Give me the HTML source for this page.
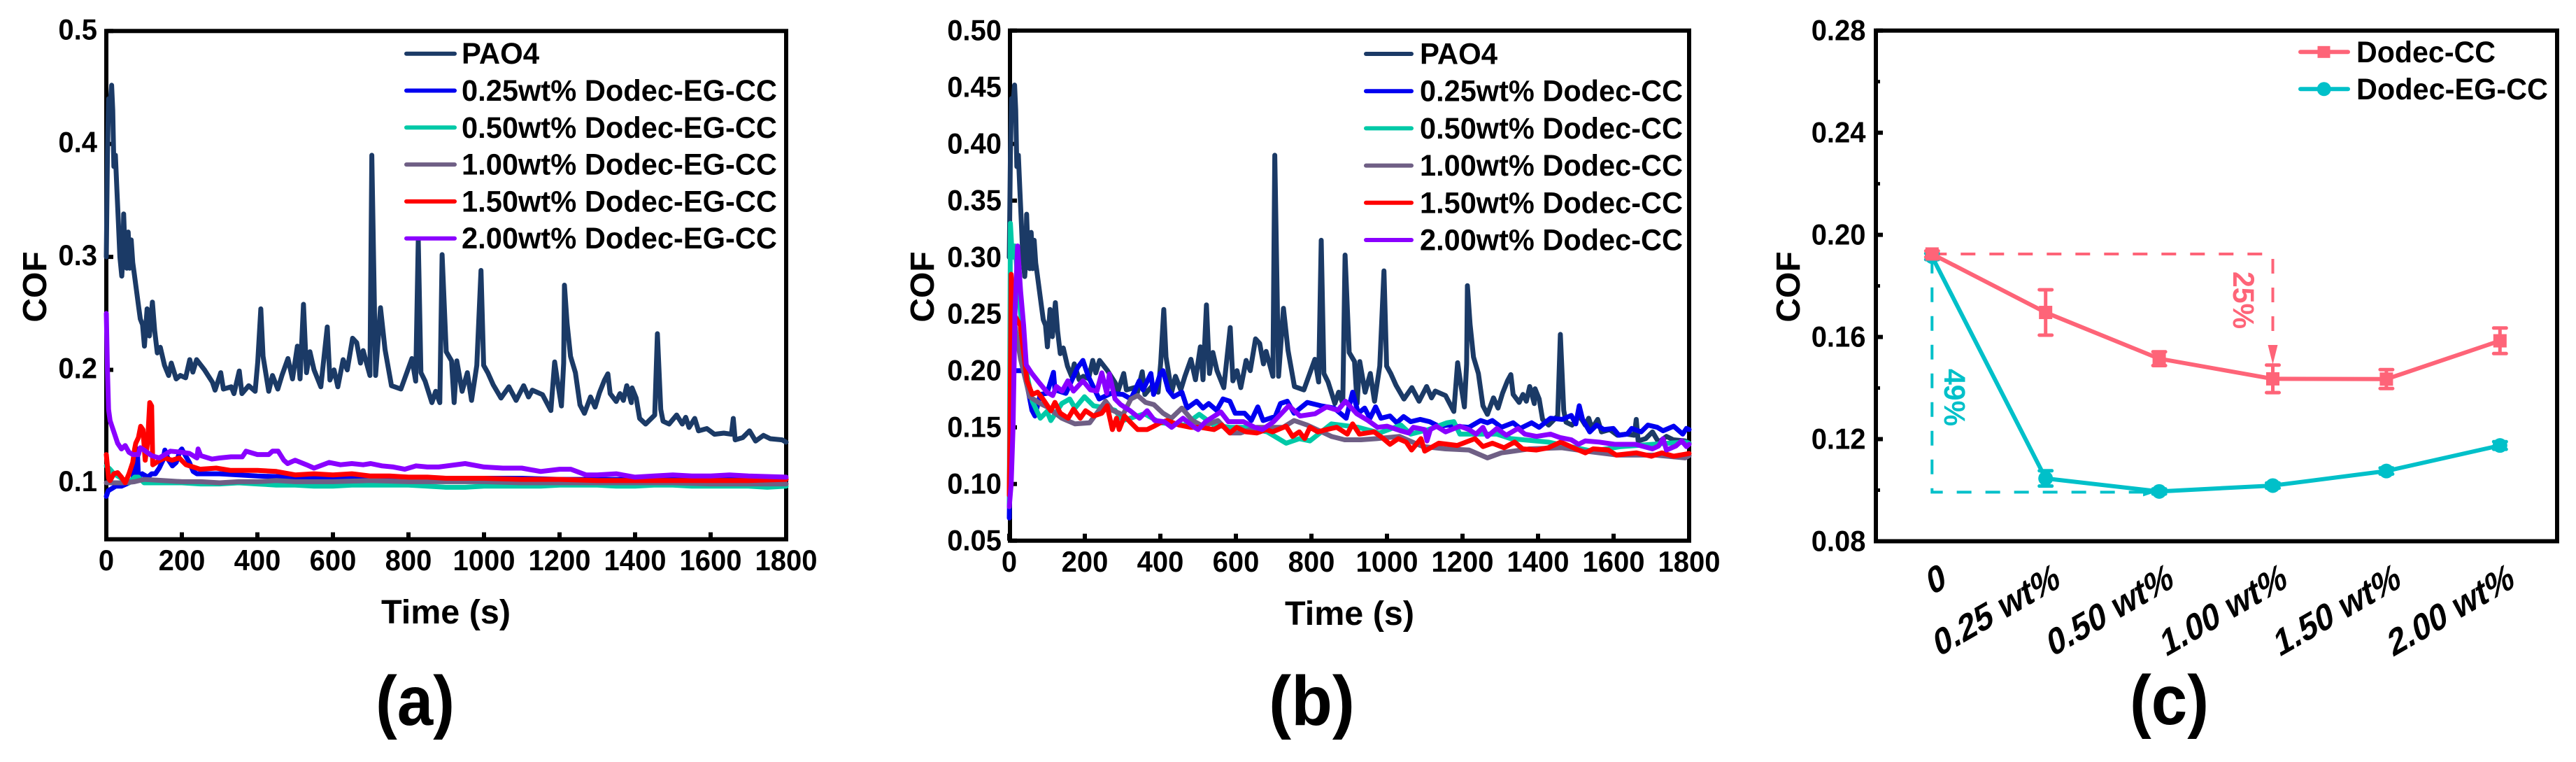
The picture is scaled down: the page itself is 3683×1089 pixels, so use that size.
<!DOCTYPE html>
<html lang="en">
<head>
<meta charset="utf-8">
<title>COF versus time and concentration</title>
<style>
html,body{margin:0;padding:0;background:#fff;}
svg{display:block;}
text{font-family:"Liberation Sans",Arial,sans-serif;font-weight:bold;fill:#000;}
</style>
</head>
<body>
<svg id="figure" xmlns="http://www.w3.org/2000/svg" width="3683" height="1089" viewBox="0 0 3683 1089">
  <rect x="0" y="0" width="3683" height="1089" fill="#fff"/>
  <g id="panel-a">
    <text transform="translate(66,410) rotate(-90)" text-anchor="middle" font-size="48">COF</text>
    <text x="545" y="891" font-size="48" textLength="185" lengthAdjust="spacingAndGlyphs">Time (s)</text>
    <text x="537" y="1036" font-size="100" textLength="113" lengthAdjust="spacingAndGlyphs">(a)</text>
  </g>
  <g id="panel-b">
    <text transform="translate(1335,410) rotate(-90)" text-anchor="middle" font-size="48">COF</text>
    <text x="1837" y="893" font-size="48" textLength="185" lengthAdjust="spacingAndGlyphs">Time (s)</text>
    <text x="1814" y="1036" font-size="100" textLength="123" lengthAdjust="spacingAndGlyphs">(b)</text>
  </g>
  <g id="panel-c">
    <text transform="translate(2573,410) rotate(-90)" text-anchor="middle" font-size="48">COF</text>
    <text x="3045" y="1035" font-size="100" textLength="113" lengthAdjust="spacingAndGlyphs">(c)</text>
    <text transform="translate(3193,388) rotate(90)" font-size="43" textLength="82" lengthAdjust="spacingAndGlyphs" style="fill:#fe6478">25%</text>
    <text transform="translate(2780,527) rotate(90)" font-size="43" textLength="82" lengthAdjust="spacingAndGlyphs" style="fill:#00c0c9">49%</text>
  </g>
</svg>
<script>
/* ---------- shared axis data ---------- */
const timeTicks = [0,200,400,600,800,1000,1200,1400,1600,1800];
const panelATicks = [0.1,0.2,0.3,0.4,0.5];
const panelBTicks = [0.05,0.10,0.15,0.20,0.25,0.30,0.35,0.40,0.45,0.50];
const panelCMajorTicks = [0.08,0.12,0.16,0.20,0.24,0.28];
const panelCMinorTicks = [0.10,0.14,0.18,0.22,0.26];
const concentrationLabels = ["0","0.25 wt%","0.50 wt%","1.00 wt%","1.50 wt%","2.00 wt%"];
const legendA = ["PAO4","0.25wt% Dodec-EG-CC","0.50wt% Dodec-EG-CC","1.00wt% Dodec-EG-CC","1.50wt% Dodec-EG-CC","2.00wt% Dodec-EG-CC"];
const legendB = ["PAO4","0.25wt% Dodec-CC","0.50wt% Dodec-CC","1.00wt% Dodec-CC","1.50wt% Dodec-CC","2.00wt% Dodec-CC"];
const legendC = ["Dodec-CC","Dodec-EG-CC"];

/* ---------- PAO4 (both panels) ---------- */
const pao4Time = [0,3,6,10,14,17,20,24,28,32,36,41,44,46,50,54,58,62,66,70,74,80,86,90,96,101,108,114,118,122,128,135,143,154,165,172,185,196,210,221,229,239,260,281,288,303,310,331,338,352,359,377,394,401,409,415,430,440,454,465,481,493,506,513,522,530,539,550,568,585,592,603,613,627,638,652,663,673,680,698,703,713,726,738,755,780,809,819,826,833,844,862,872,883,889,900,914,921,928,942,956,967,981,992,999,1010,1024,1045,1066,1085,1105,1118,1128,1155,1177,1187,1195,1205,1211,1213,1220,1229,1242,1254,1266,1282,1294,1306,1319,1328,1334,1350,1360,1369,1378,1390,1392,1403,1412,1428,1452,1459,1468,1474,1490,1510,1525,1534,1543,1558,1568,1590,1610,1635,1655,1660,1665,1685,1703,1719,1740,1758,1789,1800];
const pao4Cof = [.30,.39,.44,.435,.452,.43,.38,.39,.36,.33,.30,.283,.30,.338,.30,.29,.322,.29,.315,.295,.285,.27,.255,.245,.24,.221,.254,.23,.245,.26,.235,.215,.22,.204,.195,.206,.192,.195,.193,.209,.198,.209,.20,.189,.182,.1975,.183,.185,.179,.199,.179,.186,.181,.207,.254,.212,.181,.195,.183,.195,.21,.192,.221,.192,.258,.1975,.216,.20,.185,.238,.191,.20,.185,.209,.20,.228,.224,.206,.217,.195,.39,.195,.255,.218,.186,.183,.21,.19,.315,.1975,.19,.171,.181,.171,.302,.216,.208,.171,.208,.181,.1975,.173,.204,.288,.204,.1975,.187,.175,.185,.173,.186,.176,.182,.178,.164,.207,.189,.168,.206,.275,.241,.212,.1975,.169,.1615,.176,.167,.18,.191,.1965,.179,.172,.179,.173,.186,.171,.184,.175,.157,.152,.16,.232,.165,.1545,.152,.16,.152,.158,.149,.157,.146,.148,.143,.144,.143,.157,.138,.14,.146,.137,.142,.139,.138,.136];

/* ---------- panel (a) Dodec-EG-CC ---------- */
const egBlueTime = [0,5,15,25,40,60,70,78,82,85,95,110,120,130,140,150,155,165,175,185,195,200,208,220,230,240,300,400,500,600,700,800,900,1000,1100,1200,1300,1400,1500,1600,1700,1800];
const egBlueCof = [.088,.093,.095,.097,.097,.100,.103,.12,.13,.105,.108,.105,.108,.108,.113,.12,.129,.12,.115,.118,.128,.13,.125,.118,.11,.108,.108,.106,.105,.105,.104,.104,.104,.104,.104,.103,.103,.103,.103,.103,.103,.103];
const egTealTime = [0,10,20,40,60,75,85,100,150,200,250,300,350,400,450,500,550,600,650,700,750,800,850,900,950,1000,1050,1100,1150,1200,1250,1300,1350,1400,1450,1500,1550,1600,1650,1700,1750,1800];
const egTealCof = [.115,.112,.108,.104,.10,.105,.105,.10,.10,.10,.099,.099,.10,.099,.098,.098,.097,.097,.098,.098,.098,.098,.097,.096,.096,.097,.097,.097,.097,.098,.098,.098,.097,.097,.098,.098,.097,.097,.097,.097,.096,.097];
const egGrayTime = [0,50,75,100,150,200,250,300,350,400,450,500,550,600,700,800,900,1000,1100,1200,1300,1400,1500,1600,1700,1800];
const egGrayCof = [.10,.10,.101,.103,.102,.101,.101,.100,.101,.101,.102,.101,.101,.101,.102,.101,.101,.101,.10,.10,.10,.10,.10,.099,.099,.099];
const egRedTime = [0,6,10,20,30,40,50,60,70,75,78,85,91,97,103,109,115,120,123,137,155,174,193,211,230,248,291,328,400,450,500,550,600,650,700,750,800,850,900,1000,1100,1200,1300,1400,1500,1600,1700,1800];
const egRedCof = [.125,.104,.102,.108,.109,.105,.10,.108,.118,.13,.135,.14,.15,.147,.12,.135,.171,.168,.116,.119,.122,.12,.122,.116,.114,.112,.113,.111,.111,.11,.107,.108,.107,.108,.106,.106,.105,.105,.104,.104,.103,.103,.102,.102,.102,.102,.102,.103];
const egPurpleTime = [0,3,6,10,15,20,30,40,50,60,70,85,90,100,120,140,160,170,200,220,240,243,250,280,300,330,360,370,400,430,440,455,470,480,500,530,550,590,620,650,680,700,730,760,790,820,850,880,950,1000,1050,1100,1150,1200,1230,1270,1300,1350,1400,1450,1500,1550,1600,1650,1700,1800];
const egPurpleCof = [.25,.20,.165,.155,.15,.145,.135,.13,.133,.127,.125,.125,.131,.129,.124,.122,.126,.128,.127,.126,.122,.13,.124,.121,.122,.123,.123,.128,.125,.125,.128,.128,.12,.117,.12,.116,.113,.118,.116,.117,.116,.117,.115,.114,.112,.115,.114,.114,.117,.114,.113,.113,.110,.112,.112,.107,.107,.108,.105,.106,.107,.106,.106,.107,.106,.105];

/* ---------- panel (b) Dodec-CC ---------- */
const ccBlueTime = [0,5,20,40,60,68,82,100,117,121,150,181,195,209,238,270,301,322,344,354,375,382,400,407,421,435,457,471,496,513,528,549,566,584,598,623,641,658,672,704,718,736,754,789,825,860,892,909,924,941,955,970,984,1008,1026,1044,1063,1088,1113,1137,1162,1180,1217,1248,1266,1279,1303,1334,1353,1383,1403,1433,1464,1488,1500,1509,1518,1537,1555,1574,1599,1614,1636,1648,1673,1691,1716,1731,1759,1783,1793,1800];
const ccBlueCof = [.07,.2,.2,.2,.165,.16,.179,.18,.1985,.183,.18,.2027,.209,.195,.175,.18,.179,.175,.191,.183,.1975,.179,.1975,.2,.183,.177,.181,.167,.173,.167,.171,.165,.175,.173,.1625,.1625,.156,.168,.156,.1595,.171,.173,.1625,.172,.169,.167,.158,.181,.1625,.167,.158,.168,.158,.16,.154,.1595,.155,.157,.155,.151,.152,.151,.15,.156,.154,.156,.15,.154,.149,.154,.15,.158,.157,.1605,.153,.169,.157,.146,.152,.148,.149,.143,.144,.149,.146,.152,.15,.147,.151,.144,.149,.148];
const ccTealTime = [0,3,8,15,30,45,61,82,100,110,139,160,174,199,223,259,280,301,358,400,464,503,542,584,627,683,733,768,796,853,924,980,1037,1063,1110,1159,1177,1193,1291,1328,1427,1543,1620,1703,1789,1800];
const ccTealCof = [.08,.33,.30,.31,.25,.20,.173,.158,.164,.156,.171,.175,.167,.177,.169,.167,.165,.156,.162,.154,.152,.1615,.152,.15,.15,.146,.136,.14,.138,.153,.15,.145,.152,.144,.148,.154,.155,.144,.144,.14,.137,.129,.133,.135,.137,.136];
const ccGrayTime = [0,5,15,30,54,82,100,139,174,213,255,273,301,322,340,361,383,407,429,457,485,513,552,584,612,655,690,725,754,789,853,888,931,973,1033,1095,1155,1217,1266,1303,1377,1463,1525,1611,1710,1789,1800];
const ccGrayCof = [.09,.22,.24,.21,.177,.171,.168,.158,.153,.154,.173,.165,.161,.175,.178,.172,.17,.1625,.158,.167,.156,.151,.156,.145,.145,.15,.15,.15,.156,.152,.142,.139,.139,.14,.142,.133,.131,.13,.123,.1275,.131,.132,.129,.1255,.1255,.123,.125];
const ccRedTime = [0,2,5,12,29,47,61,75,89,110,121,135,156,170,188,202,223,245,259,273,284,291,305,322,340,365,383,400,418,450,480,506,542,563,584,602,627,655,680,697,733,750,768,782,796,817,840,867,895,909,927,966,987,1008,1030,1051,1065,1090,1100,1137,1186,1233,1254,1279,1310,1338,1359,1396,1427,1460,1500,1525,1546,1586,1607,1660,1700,1728,1759,1793,1800];
const ccRedCof = [.09,.15,.285,.25,.24,.191,.179,.181,.175,.1646,.172,.1625,.158,.166,.158,.1646,.16,.1625,.169,.148,.158,.148,.16,.154,.148,.148,.151,.154,.156,.152,.15,.15,.148,.152,.145,.15,.146,.145,.148,.146,.151,.142,.146,.14,.15,.146,.148,.15,.144,.153,.144,.146,.141,.135,.14,.137,.13,.14,.129,.136,.134,.14,.133,.136,.132,.137,.131,.13,.132,.137,.131,.1275,.131,.13,.1255,.1275,.1245,.1275,.1245,.1265,.127];
const ccPurpleTime = [0,5,10,15,22,30,38,45,60,80,100,115,125,140,155,170,195,215,232,245,258,265,280,295,320,345,365,385,410,430,460,490,500,520,560,580,620,650,670,700,740,770,810,840,870,890,920,950,975,1000,1036,1057,1070,1100,1106,1115,1131,1155,1193,1217,1236,1254,1266,1291,1316,1347,1365,1396,1433,1458,1488,1507,1525,1562,1603,1658,1703,1719,1731,1740,1765,1780,1793,1800];
const ccPurpleCof = [.08,.10,.15,.25,.31,.27,.24,.205,.1975,.189,.181,.178,.186,.182,.191,.182,.191,.183,.182,.198,.18,.197,.175,.17,.1646,.158,.1646,.156,.155,.15,.158,.15,.148,.155,.1636,.155,.155,.15,.148,.155,.169,.16,.162,.168,.165,.173,.162,.156,.15,.151,.147,.145,.15,.148,.138,.148,.151,.146,.151,.148,.144,.15,.142,.149,.143,.149,.144,.142,.144,.141,.139,.135,.138,.137,.135,.135,.131,.1335,.14,.13,.1335,.138,.133,.135];

/* ---------- panel (c) ---------- */
const dodecCcCof = [.1925,.1696,.1515,.1436,.1435,.1585];
const dodecCcErr = [.0012,.0089,.0027,.0054,.0037,.005];
const dodecEgCof = [.1915,.1046,.0995,.1018,.1075,.1175];
const dodecEgErr = [.0012,.003,.001,.001,.0012,.0015];

/* ---------- drawing helpers ---------- */
const NS = 'http://www.w3.org/2000/svg';
const NAVY = '#1b3a66', BLUE = '#0000f0', GREEN = '#00c9a7', SLATE = '#6f5f85', RED = '#ff0000', VIOLET = '#8a00ff';
const CORAL = '#fe6478', CYAN = '#00c0c9';
const TRACE_WIDTH = 7;

function make(parent, tag, attrs, text) {
  const el = document.createElementNS(NS, tag);
  for (const k in attrs) el.setAttribute(k, attrs[k]);
  if (text !== undefined) el.textContent = text;
  parent.appendChild(el);
  return el;
}
function linear(d0, d1, r0, r1) {
  return v => r0 + (v - d0) * (r1 - r0) / (d1 - d0);
}
/* tick text is drawn slightly taller than its advance width, as in the source figure */
function numberWidth(str) {
  let em = 0;
  for (const c of str) em += c === '.' ? 0.278 : 0.556;
  return (em * 40).toFixed(1);
}
function drawFrame(group, prefix, g) {
  const frame = make(group, 'rect', {x:g.left, y:g.top, width:g.right-g.left, height:g.bottom-g.top, fill:'none', stroke:'#000', 'stroke-width':6});
  
  
}
function drawYTicks(group, prefix, g, sy, ticks, digits, dy, labelX) {
  ticks.forEach(v => {
    const t = make(group, 'line', {x1:g.left, x2:g.left+10, y1:sy(v), y2:sy(v), stroke:'#000', 'stroke-width':6});
    
    
    const s = v.toFixed(digits);
    const l = make(group, 'text', {x:labelX, y:sy(v)+dy, 'text-anchor':'end', 'font-size':42, textLength:numberWidth(s), lengthAdjust:'spacingAndGlyphs'}, s);
    
    
  });
}
function drawXTicks(group, prefix, g, sx, baseline) {
  timeTicks.forEach(v => {
    const t = make(group, 'line', {x1:sx(v), x2:sx(v), y1:g.bottom, y2:g.bottom-10, stroke:'#000', 'stroke-width':6});
    
    
    const s = String(v);
    const l = make(group, 'text', {x:sx(v), y:baseline, 'text-anchor':'middle', 'font-size':42, textLength:numberWidth(s), lengthAdjust:'spacingAndGlyphs'}, s);
    
    
  });
}
function drawTrace(group, name, times, values, sx, sy, color, width) {
  const n = Math.min(times.length, values.length);
  let d = '';
  for (let i = 0; i < n; i++) d += (i ? 'L' : 'M') + sx(times[i]).toFixed(1) + ' ' + sy(values[i]).toFixed(1);
  const p = make(group, 'path', {d:d, fill:'none', stroke:color, 'stroke-width':width, 'stroke-linejoin':'round', 'stroke-linecap':'round'});
  
  
}
function drawLegend(group, prefix, entries, colors, g) {
  entries.forEach((label, i) => {
    const yLine = g.lineY + i * g.step;
    const ln = make(group, 'line', {x1:g.lineX0, x2:g.lineX1, y1:yLine, y2:yLine, stroke:colors[i], 'stroke-width':6, 'stroke-linecap':'round'});
    
    
    const attrs = {x:g.textX, y:yLine+g.textDy, 'font-size':43};
    attrs.textLength = i === 0 ? g.shortWidth : g.longWidth;
    attrs.lengthAdjust = 'spacingAndGlyphs';
    const t = make(group, 'text', attrs, label);
    
    
  });
}

/* ---------- panel (a) ---------- */
const geomA = {left:152, right:1124, top:44.3, bottom:770.7};
const ax = linear(0, 1800, geomA.left, geomA.right);
const ay = linear(0.05, 0.5, geomA.bottom, geomA.top);
const gA = document.getElementById('panel-a');
drawFrame(gA, 'panel-a', geomA);
drawYTicks(gA, 'panel-a', geomA, ay, panelATicks, 1, 12, 139);
drawXTicks(gA, 'panel-a', geomA, ax, 815);
drawTrace(gA, 'panel-a-series-pao4', pao4Time, pao4Cof, ax, ay, NAVY, TRACE_WIDTH);
drawTrace(gA, 'panel-a-series-0-25wt', egBlueTime, egBlueCof, ax, ay, BLUE, TRACE_WIDTH);
drawTrace(gA, 'panel-a-series-0-50wt', egTealTime, egTealCof, ax, ay, GREEN, TRACE_WIDTH);
drawTrace(gA, 'panel-a-series-1-00wt', egGrayTime, egGrayCof, ax, ay, SLATE, TRACE_WIDTH);
drawTrace(gA, 'panel-a-series-1-50wt', egRedTime, egRedCof, ax, ay, RED, TRACE_WIDTH);
drawTrace(gA, 'panel-a-series-2-00wt', egPurpleTime, egPurpleCof, ax, ay, VIOLET, TRACE_WIDTH);
drawLegend(gA, 'panel-a', legendA, [NAVY,BLUE,GREEN,SLATE,RED,VIOLET], {lineY:76.7, step:52.8, lineX0:581, lineX1:650, textX:660, textDy:14.5, shortWidth:111, longWidth:451});

/* ---------- panel (b) ---------- */
const geomB = {left:1444, right:2415, top:43.7, bottom:772.7};
const bx = linear(0, 1800, 1443, geomB.right);
const by = linear(0.05, 0.5, geomB.bottom, geomB.top);
const gB = document.getElementById('panel-b');
drawFrame(gB, 'panel-b', geomB);
drawYTicks(gB, 'panel-b', geomB, by, panelBTicks, 2, 14, 1432);
drawXTicks(gB, 'panel-b', geomB, bx, 817);
drawTrace(gB, 'panel-b-series-pao4', pao4Time, pao4Cof, bx, by, NAVY, TRACE_WIDTH);
drawTrace(gB, 'panel-b-series-0-25wt', ccBlueTime, ccBlueCof, bx, by, BLUE, TRACE_WIDTH);
drawTrace(gB, 'panel-b-series-0-50wt', ccTealTime, ccTealCof, bx, by, GREEN, TRACE_WIDTH);
drawTrace(gB, 'panel-b-series-1-00wt', ccGrayTime, ccGrayCof, bx, by, SLATE, TRACE_WIDTH);
drawTrace(gB, 'panel-b-series-1-50wt', ccRedTime, ccRedCof, bx, by, RED, TRACE_WIDTH);
drawTrace(gB, 'panel-b-series-2-00wt', ccPurpleTime, ccPurpleCof, bx, by, VIOLET, TRACE_WIDTH);
drawLegend(gB, 'panel-b', legendB, [NAVY,BLUE,GREEN,SLATE,RED,VIOLET], {lineY:77, step:53.2, lineX0:1953, lineX1:2018, textX:2030, textDy:14.5, shortWidth:111, longWidth:376});

/* ---------- panel (c) ---------- */
const geomC = {left:2682, right:3656, top:43.7, bottom:773.5};
const cy = linear(0.08, 0.28, geomC.bottom, geomC.top);
const cx = linear(0, 5, 2762.3, 3574.3);
const gC = document.getElementById('panel-c');
drawFrame(gC, 'panel-c', geomC);
drawYTicks(gC, 'panel-c', geomC, cy, panelCMajorTicks, 2, 14, 2667.5);
panelCMinorTicks.forEach(v => {
  const t = make(gC, 'line', {x1:geomC.left, x2:geomC.left+6, y1:cy(v), y2:cy(v), stroke:'#000', 'stroke-width':5});
  
  
});

/* dashed guides derived from the series */
const dashStyle = '21 20';
const guideEgY = cy(dodecEgCof[2]) + 1;
const guideEg = make(gC, 'path', {d:'M'+cx(0)+' 369.7V'+guideEgY+'H'+(cx(2)-22), fill:'none', stroke:CYAN, 'stroke-width':4, 'stroke-dasharray':dashStyle});


const arrowEg = make(gC, 'path', {d:'M'+(cx(2)-5)+' '+guideEgY+'l-18 -6v12z', fill:CYAN});


const guideCcY = cy(dodecCcCof[0]);
const guideCcH = make(gC, 'path', {d:'M'+cx(0)+' '+guideCcY+'H3235', fill:'none', stroke:CORAL, 'stroke-width':4, 'stroke-dasharray':dashStyle});


const guideCcV = make(gC, 'path', {d:'M'+cx(3)+' 370V495', fill:'none', stroke:CORAL, 'stroke-width':4, 'stroke-dasharray':dashStyle});


const arrowCc = make(gC, 'path', {d:'M'+cx(3)+' 521l-7 -28h14z', fill:CORAL});



function drawCategorySeries(prefix, values, errs, color, isSquare) {
  let d = '';
  values.forEach((v, i) => { d += (i ? 'L' : 'M') + cx(i) + ' ' + cy(v); });
  const p = make(gC, 'path', {d:d, fill:'none', stroke:color, 'stroke-width':6, 'stroke-linejoin':'round'});
  
  
  values.forEach((v, i) => {
    const bar = make(gC, 'path', {d:'M'+(cx(i)-9)+' '+cy(v+errs[i])+'h18M'+cx(i)+' '+cy(v+errs[i])+'V'+cy(v-errs[i])+'M'+(cx(i)-9)+' '+cy(v-errs[i])+'h18', fill:'none', stroke:color, 'stroke-width':5, 'stroke-linecap':'round'});
    
    
    let m;
    if (isSquare) {
      m = make(gC, 'rect', {x:cx(i)-9.5, y:cy(v)-9.5, width:19, height:19, fill:color});
    } else {
      m = make(gC, 'circle', {cx:cx(i), cy:cy(v), r:10.5, fill:color});
    }
    
    
  });
}
drawCategorySeries('dodec-eg-cc', dodecEgCof, dodecEgErr, CYAN, false);
drawCategorySeries('dodec-cc', dodecCcCof, dodecCcErr, CORAL, true);

/* sheared, tilted category labels */
concentrationLabels.forEach((label, i) => {
  const tx = cx(i) + 22.3;
  const l = make(gC, 'text', {transform:'matrix(1.04 -0.6 0.34 1.27 '+tx+' 838)', 'text-anchor':'end', 'font-size':40}, label);
  
  
});

/* legend (c) */
const legendColors = [CORAL, CYAN];
legendC.forEach((label, i) => {
  const yLine = 74.3 + i * 53;
  const ln = make(gC, 'line', {x1:3289, x2:3357, y1:yLine, y2:yLine, stroke:legendColors[i], 'stroke-width':6, 'stroke-linecap':'round'});
  
  
  let m;
  if (i === 0) {
    m = make(gC, 'rect', {x:3313.5, y:yLine-8.5, width:18, height:17, fill:legendColors[i]});
  } else {
    m = make(gC, 'circle', {cx:3322.7, cy:yLine, r:10, fill:legendColors[i]});
  }
  
  
  const t = make(gC, 'text', {x:3369, y:yLine+14.5, 'font-size':43, textLength:i === 0 ? 199 : 274, lengthAdjust:'spacingAndGlyphs'}, label);
  
  
});
</script>
</body>
</html>
